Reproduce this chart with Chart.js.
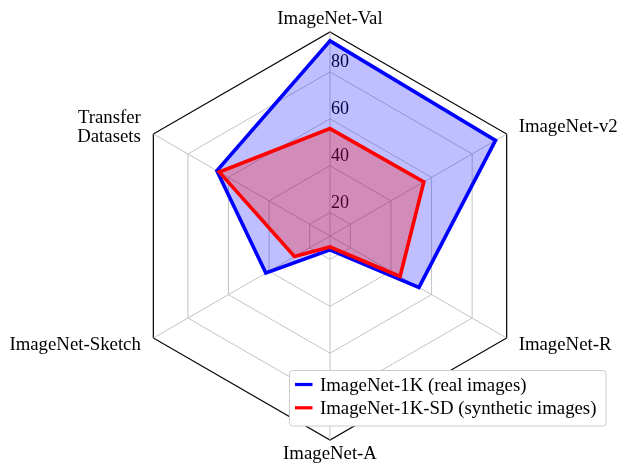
<!DOCTYPE html>
<html>
<head>
<meta charset="utf-8">
<script src="https://cdn.jsdelivr.net/npm/chart.js@4"></script>
<style>
  html, body { margin: 0; padding: 0; background: #fff; }
  #wrap { width: 627px; height: 464px; position: relative; }
</style>
</head>
<body>
<div id="wrap"><canvas id="radarChart"></canvas></div>
<script>
// values
var categories = ["ImageNet-Val", "ImageNet-v2", "ImageNet-R", "ImageNet-A", "ImageNet-Sketch", ["Transfer", "Datasets"]];
var realValues = [93.2, 91.5, 53.8, 15.9, 41.6, 65.7];
var synthValues = [55.8, 56.2, 44.5, 14.7, 27.5, 64.5];
var tickValues = [20, 40, 60, 80];
var seriesNames = ["ImageNet-1K (real images)", "ImageNet-1K-SD (synthetic images)"];
var axisMin = 10;
var axisMax = 97;

var serif = '"Liberation Serif", "Times New Roman", serif';
var blue = "#0000ff";
var red = "#ff0000";

// axis names, tick numbers and legend drawn on the canvas
var labelPlugin = {
  id: "labelPlugin",
  beforeDatasetsDraw: function(chart) {
    var ctx = chart.ctx;
    var s = chart.scales.r;
    ctx.save();
    ctx.font = "18px " + serif;
    ctx.fillStyle = "#000";
    ctx.textAlign = "left";
    ctx.textBaseline = "alphabetic";
    tickValues.forEach(function(v) {
      var d = s.getDistanceFromCenterForValue(v);
      ctx.fillText(String(v), s.xCenter + 1, s.yCenter - d - 5);
    });
    ctx.restore();
  },
  afterDatasetsDraw: function(chart) {
    var ctx = chart.ctx;
    var s = chart.scales.r;
    ctx.save();
    ctx.font = "18.8px " + serif;
    ctx.fillStyle = "#000";
    ctx.textBaseline = "alphabetic";
    categories.forEach(function(lab, i) {
      var lines = Array.isArray(lab) ? lab : [lab];
      var p = s.getPointPosition(i, s.drawingArea);
      var dx = p.x - s.xCenter;
      var dy = p.y - s.yCenter;
      var x = p.x, cy;
      if (Math.abs(dx) < 1) {
        ctx.textAlign = "center";
        cy = dy < 0 ? p.y - 14.4 : p.y + 12.6;
      } else {
        ctx.textAlign = dx > 0 ? "left" : "right";
        x = dx > 0 ? p.x + 12 : p.x - 12.5;
        cy = dy < 0 ? p.y - 7.7 : p.y + 5.6;
      }
      lines.forEach(function(t, k) {
        ctx.fillText(t, x, cy + 6 + (k - (lines.length - 1) / 2) * 19.4);
      });
    });

    // legend box
    var bx = 289.5, by = 370.5, bw = 316.5, bh = 55.5;
    ctx.beginPath();
    ctx.roundRect(bx, by, bw, bh, 3);
    ctx.fillStyle = "#fff";
    ctx.fill();
    ctx.strokeStyle = "#cccccc";
    ctx.lineWidth = 1;
    ctx.stroke();
    var colors = [blue, red];
    seriesNames.forEach(function(name, k) {
      var y = 384.5 + k * 23.3;
      ctx.beginPath();
      ctx.moveTo(295, y);
      ctx.lineTo(312.5, y);
      ctx.strokeStyle = colors[k];
      ctx.lineWidth = 3.2;
      ctx.stroke();
      ctx.fillStyle = "#000";
      ctx.textAlign = "left";
      ctx.fillText(name, 320, 390.7 + k * 23.3);
    });
    ctx.restore();
  }
};

new Chart("radarChart", {
  type: "radar",
  data: {
    labels: categories,
    datasets: [{
      label: seriesNames[0],
      data: realValues,
      borderColor: blue,
      backgroundColor: "rgba(0,0,255,0.25)",
      fill: true,
      order: 1
    }, {
      label: seriesNames[1],
      data: synthValues,
      borderColor: red,
      backgroundColor: "rgba(255,0,0,0.27)",
      fill: true,
      order: 0
    }]
  },
  options: {
    responsive: true,
    maintainAspectRatio: false,
    animation: false,
    layout: { padding: { left: 126, right: 92, top: 32, bottom: 23 } },
    elements: {
      line: { borderWidth: 3.6, tension: 0, borderJoinStyle: "miter" },
      point: { radius: 0, hoverRadius: 0 }
    },
    plugins: {
      legend: { display: false },
      tooltip: { enabled: false }
    },
    scales: {
      r: {
        min: axisMin,
        max: axisMax,
        afterBuildTicks: function(s) {
          s.ticks = [axisMin].concat(tickValues, [axisMax]).map(function(v) { return { value: v }; });
        },
        ticks: { display: false },
        pointLabels: { display: false },
        grid: {
          color: function(c) { return c.tick && c.tick.value === axisMax ? "#000" : "#bdbdbd"; },
          lineWidth: function(c) { return c.tick && c.tick.value === axisMax ? 1.2 : 0.9; }
        },
        angleLines: { color: "#bdbdbd", lineWidth: 0.9 }
      }
    }
  },
  plugins: [labelPlugin]
});
</script>
</body>
</html>
